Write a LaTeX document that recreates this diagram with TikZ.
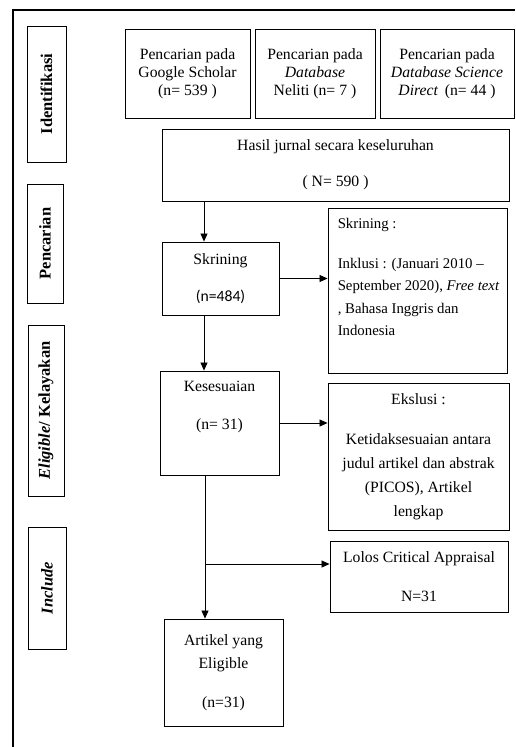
\documentclass[tikz,border=0pt]{standalone}
\usepackage{fontspec}
\setmainfont{Liberation Serif}
\newfontfamily\calibrifont{Carlito}
\usetikzlibrary{arrows.meta, positioning}

\begin{document}
\begin{tikzpicture}[x=1pt, y=-1pt,
  box/.style={draw, line width=0.9pt, align=center, inner sep=0pt, font=\fontsize{15.7}{18}\selectfont},
  side/.style={draw, line width=0.9pt, rotate=90, inner sep=0pt, font=\fontsize{16.5}{18}\selectfont\bfseries},
  txt/.style={inner sep=0pt, font=\fontsize{15.7}{18}\selectfont},
  arr/.style={-{Triangle[length=8pt, width=7pt]}, line width=0.8pt}]
  \useasboundingbox (0,0) rectangle (515,747);

  % Outer frame
  \coordinate (fr1) at (515,10);
  \coordinate (fr2) at (13,10);
  \coordinate (fr3) at (13,747);
  \draw[line width=2pt] (fr1) -- (fr2) -- (fr3);

  % Stage labels
  \node[side, minimum width=136pt, minimum height=39pt] (sid) at (46.5, 94) {Identifikasi};
  \node[side, minimum width=119pt, minimum height=36pt] (spe) at (45, 243.5) {Pencarian};
  \node[side, minimum width=171pt, minimum height=36pt] (sel) at (46, 410.5) {\textit{Eligible}/ Kelayakan};
  \node[side, minimum width=122pt, minimum height=38pt] (sin) at (47, 588) {\textit{Include}};

  % Sources
  \node[box, minimum width=125pt, minimum height=89pt] (gs) at (187.5, 73.5) {Pencarian pada\\Google Scholar\\(n= 539 )};
  \node[box, minimum width=120pt, minimum height=89pt] (nel) at (315, 73.5) {Pencarian pada\\\textit{Database}\\Neliti (n= 7 )};
  \node[box, minimum width=134pt, minimum height=89pt] (sd) at (447, 73.5) {Pencarian pada\\\textit{Database Science}\\\textit{Direct}\,\ (n= 44 )};

  % Main flow
  \node[box, minimum width=347pt, minimum height=72pt] (hasil) at (335.5, 165) {Hasil jurnal secara keseluruhan\\[18pt]( N= 590 )};
  \node[box, minimum width=117pt, minimum height=73pt] (skr) at (220.5, 278.5) {Skrining\\[19pt]{\calibrifont (n=484)}};
  \node[box, minimum width=119pt, minimum height=104pt] (kes) at (219.5, 423) {};
  \node[txt, align=center, below=10pt of kes.north] (kestxt) {Kesesuaian\\[20pt](n= 31)};
  \node[box, minimum width=119pt, minimum height=107pt] (art) at (223.5, 672.5) {Artikel yang\\[5pt]Eligible\\[21pt](n=31)};

  % Side boxes
  \node[box, minimum width=179pt, minimum height=165pt] (ink) at (417.5, 290.5) {};
  \node[txt, font=\fontsize{14.8}{18}\selectfont, align=left, below right=10pt and 10pt of ink.north west] (inktxt) {Skrining :\\[22pt]Inklusi : (Januari 2010 --\\[4.5pt]September 2020), \textit{Free text}\\[4.5pt], Bahasa Inggris dan\\[4.5pt]Indonesia};
  \node[box, minimum width=181pt, minimum height=147pt] (eks) at (418.5, 456.5) {Ekslusi :\\[22pt]Ketidaksesuaian antara\\[6pt]judul artikel dan abstrak\\[6pt](PICOS), Artikel\\[6pt]lengkap};
  \node[box, minimum width=178pt, minimum height=71pt] (lol) at (419, 576.5) {Lolos Critical Appraisal\\[21pt]N=31};

  % Connectors
  \coordinate (sp1) at (204, 0);
  \coordinate (sp2) at (205, 0);
  \coordinate (br) at (205, 564);
  \draw[arr] (hasil.south -| sp1) -- (skr.north -| sp1);
  \draw[arr] (skr.south -| sp1) -- (kes.north -| sp1);
  \draw[arr] (skr.east) -- (skr.east -| ink.west);
  \draw[arr] (kes.east) -- (kes.east -| eks.west);
  \draw[arr] (kes.south -| sp2) -- (art.north -| sp2);
  \draw[arr] (br) -- (br -| lol.west);
\end{tikzpicture}
\end{document}
